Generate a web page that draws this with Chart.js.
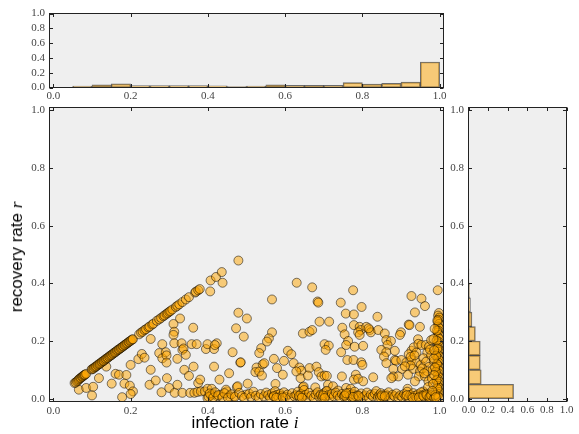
<!DOCTYPE html>
<html>
<head>
<meta charset="utf-8">
<script src="https://cdn.jsdelivr.net/npm/chart.js@4.4.1/dist/chart.umd.min.js"></script>
<style>
  html, body { margin: 0; padding: 0; background: #fff; }
  #wrap { position: relative; width: 579px; height: 434px; overflow: hidden; }
  #wrap canvas { position: absolute; left: 0; top: 0; }
  .label { position: absolute; font-family: 'Liberation Sans', Arial, sans-serif; font-size: 17px; color: #000; white-space: nowrap; }
  .label i { font-family: 'Liberation Serif', serif; }
  #xlabel { left: 245px; top: 423px; transform: translate(-50%, -50%); }
  #ylabel { left: 17px; top: 257px; transform: translate(-50%, -50%) rotate(-90deg); }
</style>
</head>
<body>
<div id="wrap">
  <canvas id="topHist" width="579" height="434"></canvas>
  <canvas id="scatter" width="579" height="434"></canvas>
  <canvas id="rightHist" width="579" height="434"></canvas>
  <div class="label" id="xlabel">infection rate <i>i</i></div>
  <div class="label" id="ylabel">recovery rate <i>r</i></div>
</div>
<script>
// tick values shared by every panel
const axisTicks = [0, 0.2, 0.4, 0.6, 0.8, 1.0];

// histogram bins (width 0.05)
const binCenters = [0.025, 0.075, 0.125, 0.175, 0.225, 0.275, 0.325, 0.375, 0.425, 0.475,
  0.525, 0.575, 0.625, 0.675, 0.725, 0.775, 0.825, 0.875, 0.925, 0.975];
const infectionFreq = [0, 0.020, 0.035, 0.050, 0.025, 0.025, 0.025, 0.025, 0.022, 0.013,
  0.018, 0.035, 0.028, 0.030, 0.028, 0.065, 0.045, 0.055, 0.072, 0.345];
const recoveryFreq = [0.46, 0.13, 0.12, 0.12, 0.07, 0.035, 0.02, 0.01, 0.005, 0,
  0, 0, 0, 0, 0, 0, 0, 0, 0, 0];

// scatter points [infection rate i, recovery rate r]
const diagonalPts = [
  [0.055,0.054],[0.058,0.056],[0.061,0.060],[0.064,0.063],[0.066,0.067],[0.069,0.070],[0.071,0.072],
  [0.074,0.075],[0.076,0.077],[0.078,0.080],[0.080,0.082],[0.082,0.083],[0.085,0.086],
  [0.099,0.101],[0.101,0.103],[0.104,0.104],[0.106,0.108],[0.109,0.110],[0.111,0.112],[0.114,0.115],
  [0.116,0.118],[0.119,0.120],[0.121,0.122],[0.124,0.125],[0.126,0.128],[0.129,0.130],[0.131,0.132],
  [0.134,0.135],[0.136,0.138],[0.139,0.140],[0.141,0.142],[0.144,0.145],[0.146,0.148],[0.149,0.150],
  [0.151,0.152],[0.154,0.155],[0.156,0.158],[0.159,0.160],[0.161,0.162],[0.164,0.165],[0.166,0.168],
  [0.169,0.170],[0.171,0.172],[0.174,0.175],[0.176,0.177],[0.179,0.180],[0.181,0.182],[0.184,0.185],
  [0.186,0.187],[0.189,0.190],[0.191,0.192],[0.194,0.195],[0.196,0.197],[0.199,0.200],[0.201,0.202],
  [0.204,0.205],[0.206,0.206],
  [0.222,0.223],[0.227,0.229],[0.231,0.232],[0.236,0.238],[0.240,0.241],[0.246,0.247],[0.249,0.250],
  [0.256,0.257],[0.259,0.260],[0.268,0.270],[0.274,0.275],[0.279,0.280],[0.285,0.286],[0.288,0.289],
  [0.293,0.294],[0.296,0.297],[0.300,0.301],[0.303,0.304],[0.308,0.309],[0.317,0.318],[0.321,0.322],
  [0.326,0.327],[0.334,0.335],[0.343,0.344],[0.351,0.352],[0.367,0.368],[0.369,0.371],[0.375,0.376],
  [0.379,0.380],[0.407,0.410],[0.421,0.422],[0.436,0.439],[0.479,0.479]
];
const spreadPts = [
  [0.066,0.031],[0.085,0.037],[0.103,0.041],[0.100,0.011],[0.118,0.071],[0.137,0.111],[0.151,0.052],
  [0.161,0.086],[0.170,0.083],[0.189,0.082],[0.184,0.052],[0.200,0.117],[0.198,0.045],[0.206,0.025],
  [0.200,0.016],[0.178,0.005],[0.220,0.137],[0.229,0.155],[0.236,0.142],[0.252,0.207],[0.252,0.100],
  [0.249,0.048],[0.265,0.063],[0.280,0.022],[0.274,0.158],[0.282,0.189],[0.282,0.140],[0.291,0.161],
  [0.293,0.150],[0.293,0.125],[0.294,0.071],[0.300,0.037],[0.311,0.259],[0.313,0.232],[0.311,0.221],
  [0.313,0.192],[0.314,0.020],[0.321,0.048],[0.321,0.138],[0.328,0.278],[0.332,0.192],[0.334,0.169],
  [0.337,0.174],[0.339,0.100],[0.343,0.152],[0.351,0.079],[0.334,0.020],[0.354,0.020],[0.358,0.189],
  [0.362,0.246],[0.363,0.111],[0.365,0.020],[0.371,0.189],[0.373,0.023],[0.375,0.054],[0.380,0.066],
  [0.382,0.025],[0.392,0.025],[0.395,0.172],[0.399,0.189],[0.399,0.034],[0.399,0.002],[0.406,0.372],
  [0.410,0.034],[0.412,0.016],[0.408,0.011],[0.416,0.111],[0.416,0.172],[0.423,0.192],[0.418,0.186],
  [0.425,0.008],[0.430,0.066],[0.434,0.014],[0.438,0.402],[0.449,0.025],[0.447,0.031],[0.455,0.088],
  [0.455,0.008],[0.464,0.161],[0.468,0.008],[0.473,0.244],[0.475,0.040],[0.477,0.043],[0.479,0.298],
  [0.484,0.125],[0.493,0.215],[0.499,0.014],[0.501,0.278],[0.503,0.052],
  [0.630,0.402],[0.670,0.386],[0.566,0.344],[0.684,0.337],[0.686,0.333],[0.689,0.267],[0.714,0.267],
  [0.566,0.230],[0.558,0.209],[0.553,0.198],[0.646,0.226],[0.663,0.232],[0.670,0.238],[0.538,0.175],
  [0.533,0.158],[0.607,0.166],[0.616,0.154],[0.702,0.189],[0.713,0.184],[0.705,0.169],[0.485,0.126],
  [0.571,0.138],[0.597,0.131],[0.622,0.123],[0.637,0.108],[0.642,0.097],[0.629,0.094],[0.663,0.106],
  [0.681,0.111],[0.687,0.092],[0.694,0.077],[0.702,0.080],[0.708,0.079],[0.711,0.048],[0.724,0.043],
  [0.526,0.108],[0.523,0.092],[0.533,0.094],[0.542,0.119],[0.546,0.123],[0.540,0.080],[0.579,0.106],
  [0.594,0.083],[0.640,0.071],[0.659,0.080],[0.575,0.051],[0.646,0.039],[0.648,0.042],[0.678,0.039],
  [0.706,0.025],
  [0.776,0.376],[0.744,0.333],[0.798,0.318],[0.757,0.295],[0.778,0.292],[0.839,0.284],[0.927,0.356],
  [0.953,0.347],[0.995,0.376],[0.962,0.321],[0.936,0.299],[0.920,0.257],[0.922,0.255],[0.949,0.249],
  [0.778,0.255],[0.793,0.249],[0.796,0.238],[0.789,0.230],[0.793,0.221],[0.810,0.249],[0.819,0.238],
  [0.822,0.230],[0.816,0.244],[0.841,0.238],[0.748,0.246],[0.754,0.223],[0.858,0.226],[0.900,0.230],
  [0.897,0.221],[0.944,0.206],[0.763,0.200],[0.758,0.186],[0.780,0.180],[0.802,0.183],[0.862,0.203],
  [0.874,0.200],[0.865,0.186],[0.849,0.169],[0.862,0.161],[0.884,0.166],[0.745,0.161],[0.856,0.146],
  [0.884,0.134],[0.887,0.131],[0.927,0.166],[0.920,0.154],[0.933,0.178],[0.940,0.160],[0.945,0.190],
  [0.953,0.186],[0.964,0.186],[0.972,0.180],[0.978,0.203],[0.968,0.160],[0.761,0.134],[0.777,0.134],
  [0.797,0.126],[0.800,0.117],[0.862,0.123],[0.901,0.134],[0.914,0.126],[0.927,0.134],[0.940,0.126],
  [0.951,0.117],[0.880,0.103],[0.903,0.103],[0.931,0.103],[0.949,0.094],[0.880,0.077],[0.893,0.077],
  [0.875,0.071],[0.918,0.083],[0.946,0.077],[0.962,0.077],[0.747,0.077],[0.783,0.083],[0.778,0.066],
  [0.789,0.069],[0.802,0.060],[0.828,0.074],[0.936,0.060],[0.971,0.060],[0.917,0.034],[0.958,0.025],
  [0.737,0.028],[0.758,0.037],[0.770,0.034],[0.925,0.145],[0.935,0.150],[0.958,0.140],[0.965,0.128],
  [0.972,0.110],[0.955,0.105],[0.978,0.150],[0.975,0.170],[0.968,0.095],[0.960,0.088],[0.925,0.115],
  [0.910,0.112],[0.985,0.130],[0.982,0.100],[0.980,0.070],[0.970,0.040]
];
const floorPts = [
  [0.402,0.006],[0.405,0.018],[0.414,0.004],[0.419,0.022],[0.427,0.012],[0.438,0.005],[0.443,0.019],
  [0.452,0.003],[0.461,0.015],[0.470,0.006],[0.481,0.020],[0.488,0.009],[0.494,0.003],[0.507,0.017],
  [0.512,0.006],[0.518,0.024],[0.524,0.010],[0.531,0.004],[0.537,0.016],[0.545,0.008],[0.551,0.021],
  [0.556,0.012],[0.561,0.004],[0.566,0.018],[0.570,0.009],[0.574,0.026],[0.579,0.013],[0.583,0.005],
  [0.587,0.017],[0.592,0.010],[0.597,0.022],[0.601,0.006],[0.606,0.014],[0.612,0.003],[0.618,0.019],
  [0.624,0.008],[0.629,0.012],[0.633,0.024],[0.637,0.005],[0.641,0.016],[0.645,0.009],[0.649,0.030],
  [0.653,0.013],[0.657,0.004],[0.662,0.020],[0.668,0.010],[0.674,0.003],[0.679,0.015],[0.684,0.022],
  [0.688,0.007],[0.692,0.013],[0.696,0.004],[0.700,0.018],[0.704,0.009],[0.708,0.027],[0.712,0.012],
  [0.716,0.005],[0.721,0.017],[0.726,0.008],[0.731,0.021],[0.736,0.011],[0.742,0.004],[0.747,0.016],
  [0.752,0.007],[0.756,0.013],[0.760,0.003],[0.764,0.020],[0.768,0.010],[0.772,0.005],[0.776,0.015],
  [0.780,0.024],[0.784,0.008],[0.788,0.012],[0.792,0.003],[0.797,0.018],[0.802,0.006],[0.807,0.011],
  [0.812,0.021],[0.817,0.004],[0.822,0.014],[0.827,0.008],[0.832,0.017],[0.836,0.026],[0.840,0.005],
  [0.844,0.012],[0.848,0.019],[0.852,0.007],[0.856,0.003],[0.860,0.015],[0.864,0.010],[0.868,0.022],
  [0.873,0.005],[0.878,0.013],[0.883,0.008],[0.888,0.018],[0.893,0.004],[0.898,0.011],[0.903,0.006],
  [0.908,0.016],[0.912,0.009],[0.916,0.024],[0.920,0.004],[0.924,0.013],[0.928,0.007],[0.932,0.019],
  [0.936,0.010],[0.940,0.003],[0.944,0.015],[0.948,0.008],[0.952,0.022],[0.956,0.012],[0.960,0.005],
  [0.964,0.017],[0.968,0.009],[0.972,0.003],[0.976,0.014],[0.980,0.020],[0.984,0.007],
  [0.571,0.008],[0.577,0.003],[0.594,0.004],[0.636,0.010],[0.643,0.003],[0.698,0.011],[0.702,0.002],
  [0.754,0.010],[0.758,0.018],[0.776,0.006],[0.790,0.009],[0.846,0.004],[0.850,0.011],[0.858,0.008],
  [0.915,0.012],[0.930,0.002],[0.946,0.004],[0.958,0.009],[0.966,0.013],[0.974,0.006],[0.978,0.011],
  [0.986,0.003]
];
const edgePts = [
  [0.998,0.297],[0.996,0.288],[0.999,0.281],[0.997,0.274],[0.995,0.266],[0.998,0.259],[0.996,0.250],
  [0.999,0.244],[0.997,0.236],[0.995,0.229],[0.998,0.221],[0.996,0.213],[0.999,0.207],[0.997,0.198],
  [0.995,0.192],[0.998,0.184],[0.996,0.177],[0.999,0.169],[0.997,0.163],[0.995,0.154],[0.998,0.147],
  [0.996,0.140],[0.999,0.132],[0.997,0.125],[0.995,0.117],[0.998,0.111],[0.996,0.103],[0.999,0.096],
  [0.997,0.088],[0.995,0.081],[0.998,0.074],[0.996,0.067],[0.999,0.059],[0.997,0.052],[0.995,0.045],
  [0.998,0.038],[0.996,0.031],[0.999,0.023],[0.997,0.016],[0.995,0.010],[0.998,0.004],
  [0.994,0.271],[0.993,0.236],[0.992,0.201],[0.994,0.173],[0.991,0.149],[0.993,0.121],[0.990,0.093],
  [0.992,0.064],[0.994,0.036],[0.989,0.013],[0.986,0.168],[0.984,0.207],[0.987,0.242],[0.985,0.139],
  [0.988,0.108],[0.986,0.082],[0.983,0.051],[0.981,0.027],[0.990,0.005]
];

const fillColor = 'rgba(255,165,0,0.5)';
const edgeColor = 'rgba(0,0,0,0.5)';
const tickFont = { family: "'Liberation Serif', 'DejaVu Serif', serif", size: 11 };
const tickColor = '#444';

// gray plot background, black frame, matplotlib style inward ticks
const framePlugin = {
  id: 'frame',
  beforeDraw(chart) {
    const { ctx, chartArea: a } = chart;
    ctx.save();
    ctx.fillStyle = '#efefef';
    ctx.fillRect(a.left, a.top, a.right - a.left, a.bottom - a.top);
    ctx.restore();
  },
  afterDraw(chart) {
    const { ctx, chartArea: a, scales } = chart;
    const len = 3.5;
    ctx.save();
    ctx.strokeStyle = '#222';
    ctx.lineWidth = 1;
    ctx.beginPath();
    scales.x.ticks.forEach(t => {
      const px = Math.round(scales.x.getPixelForValue(t.value)) + 0.5;
      ctx.moveTo(px, a.bottom); ctx.lineTo(px, a.bottom - len);
      ctx.moveTo(px, a.top); ctx.lineTo(px, a.top + len);
    });
    scales.y.ticks.forEach(t => {
      const py = Math.round(scales.y.getPixelForValue(t.value)) + 0.5;
      ctx.moveTo(a.left, py); ctx.lineTo(a.left + len, py);
      ctx.moveTo(a.right, py); ctx.lineTo(a.right - len, py);
    });
    ctx.stroke();
    ctx.strokeRect(a.left, a.top, a.right - a.left, a.bottom - a.top);
    ctx.restore();
  }
};

function makeAxis(min, max, size, pad, horizontal) {
  return {
    type: 'linear',
    min,
    max,
    offset: false,
    grid: { display: false, drawTicks: false, offset: false },
    border: { display: false },
    afterBuildTicks: scale => { scale.ticks = axisTicks.map(v => ({ value: v })); },
    afterFit: scale => {
      if (horizontal) scale.height = size; else scale.width = size;
    },
    ticks: {
      font: tickFont,
      color: tickColor,
      padding: pad,
      maxRotation: 0,
      autoSkip: false,
      callback: v => v.toFixed(1),
    },
  };
}

const baseOptions = {
  responsive: false,
  animation: false,
  events: [],
  plugins: { legend: { display: false }, tooltip: { enabled: false } },
};

new Chart(document.getElementById('topHist'), {
  type: 'bar',
  data: {
    datasets: [{
      data: binCenters.map((c, k) => ({ x: c, y: infectionFreq[k] })),
      backgroundColor: fillColor,
      borderColor: 'rgba(0,0,0,0.55)',
      borderWidth: 1,
      borderSkipped: false,
      barPercentage: 1,
      categoryPercentage: 1,
    }],
  },
  options: {
    ...baseOptions,
    layout: { padding: { left: 0, top: 13.5, right: 135.5, bottom: 326.5 } },
    scales: {
      x: makeAxis(-0.01, 1.01, 20, 2, true),
      y: makeAxis(0, 1, 49.5, 4.5, false),
    },
  },
  plugins: [framePlugin],
});

new Chart(document.getElementById('scatter'), {
  type: 'scatter',
  data: {
    datasets: [{
      data: [...spreadPts, ...floorPts, ...edgePts, ...diagonalPts].map(p => ({ x: p[0], y: p[1] })),
      pointRadius: 4.5,
      pointBackgroundColor: fillColor,
      pointBorderColor: edgeColor,
      pointBorderWidth: 1,
    }],
  },
  options: {
    ...baseOptions,
    layout: { padding: { left: 0, top: 107.5, right: 135.5, bottom: 12.5 } },
    scales: {
      x: makeAxis(-0.01, 1.01, 20, 3, true),
      y: makeAxis(-0.01, 1.01, 49.5, 4.5, false),
    },
  },
  plugins: [framePlugin],
});

new Chart(document.getElementById('rightHist'), {
  type: 'bar',
  data: {
    datasets: [{
      data: binCenters.map((c, k) => ({ x: recoveryFreq[k], y: c })),
      backgroundColor: fillColor,
      borderColor: 'rgba(0,0,0,0.55)',
      borderWidth: 1,
      borderSkipped: false,
      barPercentage: 1,
      categoryPercentage: 1,
    }],
  },
  options: {
    ...baseOptions,
    indexAxis: 'y',
    layout: { padding: { left: 438.5, top: 107.5, right: 12.5, bottom: 12.5 } },
    scales: {
      x: makeAxis(0, 1, 20, 2, true),
      y: makeAxis(-0.01, 1.01, 30, 4.5, false),
    },
  },
  plugins: [framePlugin],
});
</script>
</body>
</html>
